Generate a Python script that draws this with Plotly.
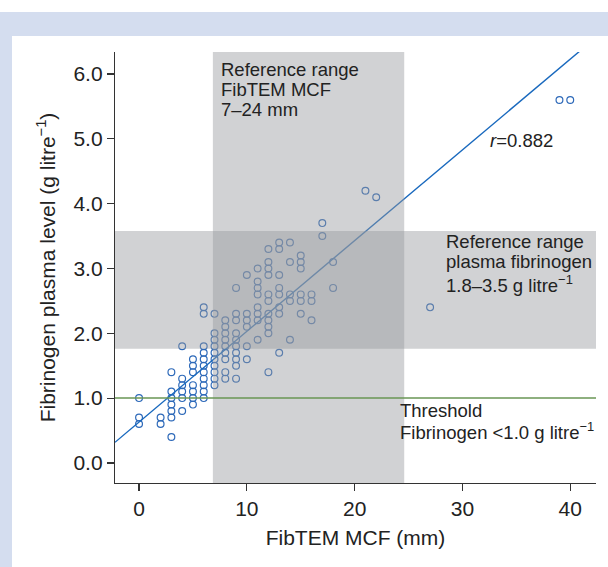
import plotly.graph_objects as go

# ---- data ----
mcf = (
    [0, 0, 0]
    + [2, 2]
    + [3] * 7
    + [4] * 6
    + [5] * 7
    + [6] * 11
    + [7] * 10
    + [8] * 9
    + [9] * 10
    + [10] * 6
    + [11] * 8
    + [12] * 11
    + [13] * 8
    + [14] * 5
    + [15] * 6
    + [16] * 3
    + [17] * 2
    + [18] * 2
    + [21, 22, 27, 39, 40]
)
fibrinogen = (
    [1.0, 0.7, 0.6]
    + [0.7, 0.6]
    + [1.4, 1.1, 1.0, 0.9, 0.8, 0.7, 0.4]
    + [1.8, 1.3, 1.2, 1.1, 1.0, 0.8]
    + [1.6, 1.5, 1.4, 1.2, 1.1, 1.0, 0.9]
    + [2.4, 2.3, 1.8, 1.7, 1.6, 1.5, 1.4, 1.3, 1.2, 1.1, 1.0]
    + [2.3, 2.0, 1.9, 1.8, 1.7, 1.6, 1.5, 1.4, 1.3, 1.2]
    + [2.2, 2.1, 2.0, 1.9, 1.8, 1.7, 1.6, 1.4, 1.3]
    + [2.7, 2.3, 2.2, 2.0, 1.9, 1.8, 1.7, 1.6, 1.5, 1.3]
    + [2.9, 2.3, 2.2, 2.1, 1.8, 1.6]
    + [3.0, 2.8, 2.7, 2.6, 2.4, 2.3, 2.2, 1.9]
    + [3.3, 3.1, 3.0, 2.9, 2.6, 2.5, 2.3, 2.2, 2.1, 2.0, 1.4]
    + [3.4, 3.3, 2.9, 2.7, 2.6, 2.4, 2.3, 1.7]
    + [3.4, 3.1, 2.6, 2.5, 1.9]
    + [3.2, 3.1, 3.0, 2.6, 2.5, 2.3]
    + [2.6, 2.5, 2.2]
    + [3.7, 3.5]
    + [3.1, 2.7]
    + [4.2, 4.1, 2.4, 5.6, 5.6]
)

fit_intercept = 0.63
fit_slope = 0.14
r_value = 0.882

mcf_ref_range = [6.85, 24.6]
fib_ref_range = [1.76, 3.58]
fib_threshold = 1.0

x_ticks = [0, 10, 20, 30, 40]
y_ticks = [0.0, 1.0, 2.0, 3.0, 4.0, 5.0, 6.0]

x_range = [-2.23, 42.39]
y_range = [-0.31, 6.34]

FONT = "Liberation Sans, Arial, Helvetica, sans-serif"
TXT = "#222222"
BAND = "rgb(150,152,156)"
AX_SIZE = 21
NOTE_SIZE = 18.5

fig = go.Figure()

fig.add_trace(go.Scatter(
    x=mcf, y=fibrinogen, mode="markers",
    marker=dict(symbol="circle-open", size=6.8, color="rgb(45,105,185)",
                line=dict(width=1.2, color="rgb(45,105,185)")),
    showlegend=False, hoverinfo="skip",
))

fit_x = [x_range[0], x_range[1]]
fit_y = [fit_intercept + fit_slope * v for v in fit_x]
fig.add_trace(go.Scatter(
    x=fit_x, y=fit_y, mode="lines",
    line=dict(color="rgb(25,105,190)", width=1.4),
    showlegend=False, hoverinfo="skip",
))

# reference bands (translucent, above data)
fig.add_shape(type="rect", xref="x", yref="y domain",
              x0=mcf_ref_range[0], x1=mcf_ref_range[1], y0=0, y1=1,
              fillcolor=BAND, opacity=0.44, line_width=0, layer="above")
fig.add_shape(type="rect", xref="x domain", yref="y",
              x0=0, x1=1, y0=fib_ref_range[0], y1=fib_ref_range[1],
              fillcolor=BAND, opacity=0.44, line_width=0, layer="above")
# threshold line
fig.add_shape(type="line", xref="x domain", yref="y",
              x0=0, x1=1, y0=fib_threshold, y1=fib_threshold,
              line=dict(color="rgb(105,150,85)", width=1.5), layer="above")

# page decoration strips
STRIP = "rgb(212,221,239)"
fig.add_shape(type="rect", xref="paper", yref="paper",
              x0=-115 / 481, x1=1 + 12 / 481, y0=1 + 16 / 431, y1=1 + 40 / 431,
              fillcolor=STRIP, line_width=0, layer="below")
fig.add_shape(type="rect", xref="paper", yref="paper",
              x0=-115 / 481, x1=-103 / 481, y0=-84 / 431, y1=1 + 40 / 431,
              fillcolor=STRIP, line_width=0, layer="below")

def line_note(x, y, text, size=NOTE_SIZE):
    fig.add_annotation(x=x, y=y, xref="x", yref="y", text=text, showarrow=False,
                       xanchor="left", yanchor="middle",
                       font=dict(family=FONT, size=size, color=TXT))

for i, t in enumerate(["Reference range", "FibTEM MCF", "7\u201324 mm"]):
    line_note(7.4, 6.07 - i * 0.31, t)
for i, t in enumerate(["Reference range", "plasma fibrinogen",
                       "1.8\u20133.5 g litre<sup>\u22121</sup>"]):
    line_note(28.3, 3.41 - i * 0.31 - (0.03 if i == 2 else 0), t)
for i, t in enumerate(["Threshold", "Fibrinogen <1.0 g litre<sup>\u22121</sup>"]):
    line_note(24.05, 0.81 - i * 0.31, t)
line_note(32.35, 4.97, "<i>r</i>=%.3f" % r_value)

axis_common = dict(
    showline=True, linecolor="#333333", linewidth=1.2,
    ticks="outside", ticklen=7, tickwidth=1.2, tickcolor="#333333",
    showgrid=False, zeroline=False,
    tickfont=dict(family=FONT, size=AX_SIZE, color=TXT),
)

fig.update_xaxes(range=x_range, tickvals=x_ticks, ticktext=[str(v) for v in x_ticks],
                 title=dict(text="FibTEM MCF (mm)", standoff=10,
                            font=dict(family=FONT, size=AX_SIZE, color=TXT)),
                 **axis_common)
fig.update_yaxes(range=y_range, tickvals=y_ticks, ticktext=["%.1f" % v for v in y_ticks],
                 title=dict(text="Fibrinogen plasma level (g litre<sup>\u22121</sup>)", standoff=12,
                            font=dict(family=FONT, size=AX_SIZE, color=TXT)),
                 **axis_common)

fig.update_layout(
    width=608, height=567,
    margin=dict(l=115, r=12, t=52, b=84, autoexpand=False),
    paper_bgcolor="white", plot_bgcolor="white",
    hovermode=False,
)

fig.write_html("out.html", config={"displayModeBar": False, "staticPlot": True},
               post_script="document.body.style.margin='0px';")
